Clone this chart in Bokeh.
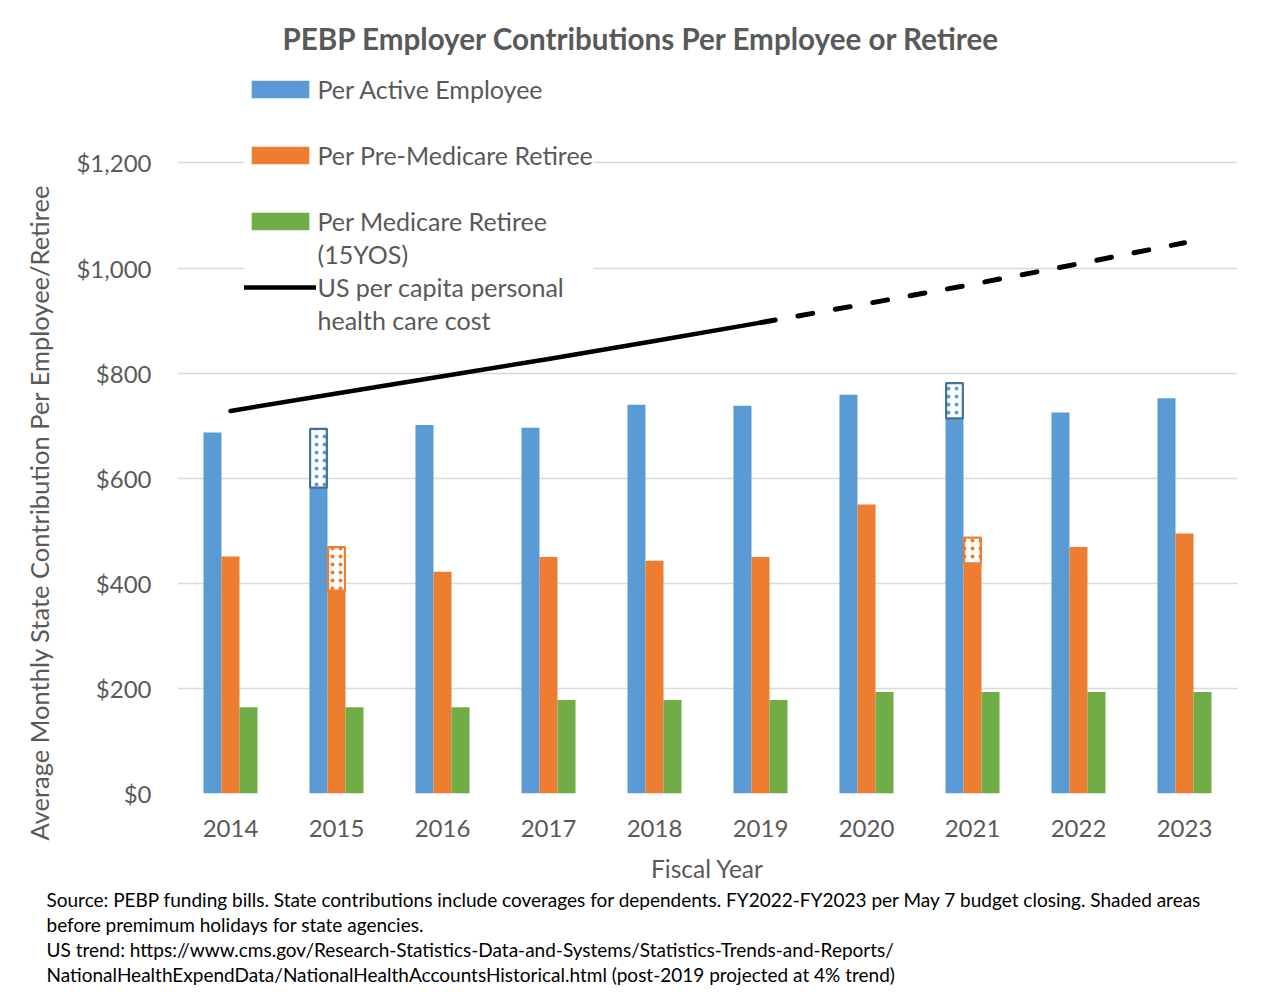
from bokeh.plotting import figure
from bokeh.models import (ColumnDataSource, FactorRange, Range1d, FixedTicker,
                          NumeralTickFormatter, Legend, LegendItem, Title)
from bokeh.transform import dodge
from bokeh.embed import file_html
from bokeh.resources import INLINE

# ---------------- data ----------------
years = ["2014", "2015", "2016", "2017", "2018", "2019", "2020", "2021", "2022", "2023"]
active = [687, 582, 701, 696, 740, 738, 759, 714, 725, 752]
pre_medicare = [451, 386, 422, 450, 443, 450, 550, 438, 469, 495]
medicare = [164, 164, 164, 178, 178, 178, 193, 193, 193, 193]

holiday_years = ["2015", "2021"]
active_before_holiday = [694, 781]
active_after_holiday = [582, 714]
pre_before_holiday = [469, 487]
pre_after_holiday = [386, 438]

us_cost = [728, 761, 794, 827, 861, 896, 932, 969, 1008, 1048]
projection_start = "2019"

y_ticks = [0, 200, 400, 600, 800, 1000, 1200]

title_text = "PEBP Employer Contributions Per Employee or Retiree"
y_label = "Average Monthly  State Contribution Per Employee/Retiree"
x_label = "Fiscal Year"
footnotes = [
    "Source: PEBP funding bills.  State contributions include coverages for dependents. FY2022-FY2023 per May 7 budget closing. Shaded areas",
    "before premimum holidays for state agencies.",
    "US trend: https://www.cms.gov/Research-Statistics-Data-and-Systems/Statistics-Trends-and-Reports/",
    "NationalHealthExpendData/NationalHealthAccountsHistorical.html (post-2019 projected at 4% trend)",
]
legend_rows = [
    ("Per Active Employee", "active"),
    (" ", None),
    ("Per Pre-Medicare Retiree", "pre"),
    ("  ", None),
    ("Per Medicare Retiree", "med"),
    ("(15YOS)", None),
    ("US per capita personal", "line"),
    ("health care cost", None),
]

# ---------------- styling ----------------
BLUE = "#5B9BD5"
ORANGE = "#ED7D31"
GREEN = "#70AD47"
TXT = "#595959"
FONT = "Lato"

W, H = 1262, 988
LEFT, RIGHT, TOP = 177, 25, 60
BOTTOM = 195
frame_h = H - TOP - BOTTOM
px_per_dollar = 0.5255
y_end = frame_h / px_per_dollar

p = figure(width=W, height=H, x_range=FactorRange(*years), y_range=Range1d(0, y_end),
           output_backend="svg", toolbar_location=None,
           min_border_left=LEFT, min_border_right=RIGHT,
           min_border_top=TOP, min_border_bottom=BOTTOM)
p.outline_line_color = None
p.background_fill_color = "white"
p.border_fill_color = "white"

main = ColumnDataSource(dict(year=years, active=active, pre=pre_medicare, med=medicare))
hol = ColumnDataSource(dict(year=holiday_years,
                            a_top=active_before_holiday, a_bot=active_after_holiday,
                            p_top=pre_before_holiday, p_bot=pre_after_holiday))

BW = 0.17
r_active = p.vbar(x=dodge("year", -BW, range=p.x_range), top="active", width=BW,
                  source=main, fill_color=BLUE, line_color=None)
r_pre = p.vbar(x=dodge("year", 0, range=p.x_range), top="pre", width=BW,
               source=main, fill_color=ORANGE, line_color=None)
r_med = p.vbar(x=dodge("year", BW, range=p.x_range), top="med", width=BW,
               source=main, fill_color=GREEN, line_color=None)

p.vbar(x=dodge("year", -BW, range=p.x_range), top="a_top", bottom="a_bot", width=BW - 0.012,
       source=hol, fill_color="white", line_color="#41719C", line_width=2.2,
       hatch_pattern="dot", hatch_color=BLUE, hatch_scale=8, hatch_weight=1.6)
p.vbar(x=dodge("year", 0, range=p.x_range), top="p_top", bottom="p_bot", width=BW - 0.012,
       source=hol, fill_color="white", line_color=ORANGE, line_width=2.2,
       hatch_pattern="dot", hatch_color=ORANGE, hatch_scale=8, hatch_weight=1.6)

k = years.index(projection_start)
r_line = p.line(x=years[:k + 1], y=us_cost[:k + 1], line_color="black", line_width=4.5,
                line_cap="round", line_join="round")
p.line(x=years[k:], y=us_cost[k:], line_color="black", line_width=5,
       line_dash="15 23", line_cap="round")

# invisible renderer used only for legend continuation rows
r_blank = p.line(x=[], y=[], line_alpha=0)

# axes
p.yaxis.ticker = FixedTicker(ticks=y_ticks)
p.yaxis.formatter = NumeralTickFormatter(format="$0,0")
for ax in (p.xaxis[0], p.yaxis[0]):
    ax.axis_line_color = None
    ax.major_tick_line_color = None
    ax.minor_tick_line_color = None
    ax.major_tick_out = 0
    ax.major_tick_in = 0
    ax.minor_tick_out = 0
    ax.major_label_text_font = FONT
    ax.major_label_text_font_size = "24px"
    ax.major_label_text_color = TXT
    ax.axis_label_text_font = FONT
    ax.axis_label_text_font_size = "24.5px"
    ax.axis_label_text_color = TXT
    ax.axis_label_text_font_style = "normal"
p.xaxis.axis_label = x_label
p.xaxis.major_label_standoff = 26
p.xaxis.axis_label_standoff = 14
p.yaxis.major_label_standoff = 26
p.xgrid.grid_line_color = None
p.ygrid.grid_line_color = "#D9D9D9"
p.ygrid.grid_line_width = 1.6
p.ygrid.ticker = FixedTicker(ticks=y_ticks)

# y-axis title (placed as a side title so it can be offset along the axis)
p.add_layout(Title(text=y_label, align="left", offset=-47, standoff=40,
                   text_font=FONT, text_font_size="25.5px", text_font_style="normal",
                   text_color=TXT), "left")

# legend
rmap = {"active": r_active, "pre": r_pre, "med": r_med, "line": r_line, None: r_blank}
legend = Legend(items=[LegendItem(label=lab, renderers=[rmap[key]]) for lab, key in legend_rows],
                location=(66.5, 458))
legend.glyph_width = 72
legend.glyph_height = 22
legend.label_height = 30
legend.spacing = 3
legend.padding = 10
legend.label_standoff = 2
legend.label_text_font = FONT
legend.label_text_font_size = "25px"
legend.label_text_color = TXT
legend.border_line_color = None
legend.background_fill_color = "white"
legend.background_fill_alpha = 1.0
p.add_layout(legend, "center")

# main title
p.title.text = title_text
p.title.align = "left"
p.title.offset = 105
p.title.standoff = 9
p.title.text_font = FONT
p.title.text_font_size = "29.6px"
p.title.text_font_style = "bold"
p.title.text_color = TXT

# footnotes
for t in footnotes:
    p.add_layout(Title(text=t, align="left", offset=-131, standoff=0,
                       text_font=FONT, text_font_size="19px",
                       text_font_style="normal", text_color="black"), "below")

open("out.html", "w").write(file_html(p, INLINE))
